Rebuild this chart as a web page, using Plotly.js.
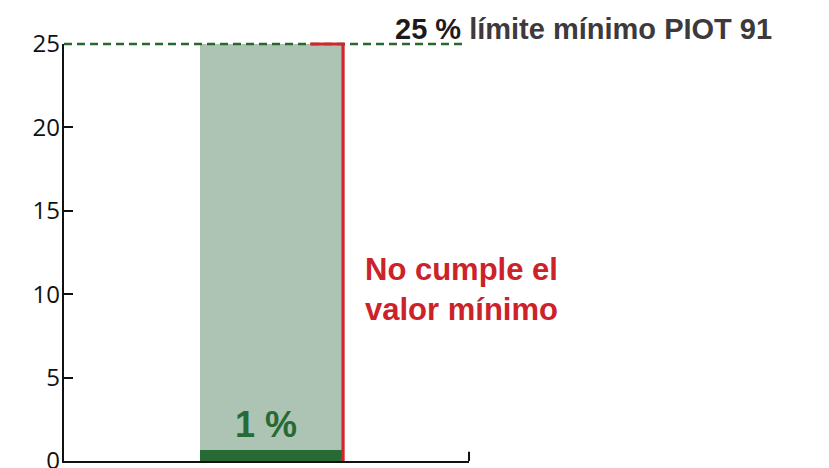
<!DOCTYPE html>
<html>
<head>
<meta charset="utf-8">
<script src="https://cdn.plot.ly/plotly-3.0.1.min.js"></script>
<style>html,body{margin:0;padding:0;background:#fff}#chart{width:829px;height:468px}</style>
</head>
<body>
<div id="chart"></div>
<script>
// Data
const categories = ['Espacios libres'];
const positions = [0];                // position of each category on the x axis
const actualValues = [0.65];          // actual share (labelled "1 %")
const minimumValues = [25];           // PIOT 91 minimum
const actualLabel = '1 %';
const limitLabelStrong = '25 %';
const limitLabelRest = ' límite mínimo PIOT 91';
const failLabel = 'No cumple el<br>valor mínimo';
const yTickVals = [0, 5, 10, 15, 20, 25];
const yTickText = ['0', '5', '10', '15', '20', '25'];

const barWidth = 1;
const yMax = 25;
const limit = minimumValues[0];
const barRight = positions[0] + barWidth / 2;

const traces = [
  {
    type: 'bar', x: positions, y: minimumValues, width: barWidth, name: categories[0],
    marker: {color: '#adc4b4', line: {width: 0}}, hoverinfo: 'skip'
  },
  {
    type: 'bar', x: positions, y: actualValues, width: barWidth, name: categories[0],
    marker: {color: '#276a35', line: {width: 0}}, hoverinfo: 'skip'
  },
  {
    // red line at right edge of the bar
    type: 'scatter', mode: 'lines',
    x: [barRight, barRight],
    y: [0, limit],
    line: {color: '#d2262c', width: 3.2}, hoverinfo: 'skip'
  }
];

const layout = {
  width: 829, height: 468,
  margin: {l: 64, r: 360, t: 44, b: 7, pad: 0},
  paper_bgcolor: '#fff', plot_bgcolor: '#fff',
  showlegend: false,
  barmode: 'overlay',
  bargap: 0,
  xaxis: {
    type: 'linear', range: [-1.45, 1.38],
    showgrid: false, zeroline: false,
    showline: true, linecolor: '#111', linewidth: 2,
    showticklabels: false, ticks: '', fixedrange: true
  },
  yaxis: {
    range: [0, yMax], showgrid: false, zeroline: false,
    showline: true, linecolor: '#111', linewidth: 2.2,
    ticks: 'inside', ticklen: 9, tickwidth: 2, tickcolor: '#111',
    tickvals: yTickVals, ticktext: yTickText,
    tickfont: {family: 'Open Sans, DejaVu Sans, sans-serif', size: 24, color: '#111'},
    ticklabelstandoff: -3,
    ticklabeloverflow: 'allow'
  },
  shapes: [
    // dashed minimum line
    {type: 'line', xref: 'paper', yref: 'paper', x0: 0, x1: 0.983, y0: limit / yMax, y1: limit / yMax,
     line: {color: '#28682f', width: 2.3, dash: '8px,5px'}, layer: 'above'},
    // top of red bracket
    {type: 'line', xref: 'x', yref: 'paper', x0: barRight - 0.23, x1: barRight + 0.011,
     y0: limit / yMax, y1: limit / yMax,
     line: {color: '#d2262c', width: 3.2}, layer: 'above'},
    // right-end tick on x axis
    {type: 'line', xref: 'paper', yref: 'paper', x0: 1, x1: 1, y0: 0, y1: 0.022,
     line: {color: '#111', width: 2}}
  ],
  annotations: [
    {xref: 'paper', yref: 'paper', x: 0.813, y: 1.035, xanchor: 'left', yanchor: 'middle',
     text: '<span style="color:#1e1a1c">' + limitLabelStrong + '</span>' + limitLabelRest,
     showarrow: false,
     font: {family: 'Liberation Sans, Arial, sans-serif', size: 29, color: '#3d393c', weight: 'bold'}},
    {xref: 'paper', yref: 'y', x: 0.738, y: 10.3, xanchor: 'left', yanchor: 'middle', align: 'left',
     text: failLabel, showarrow: false,
     font: {family: 'Liberation Sans, Arial, sans-serif', size: 31, color: '#cc2229', weight: 'bold'}},
    {xref: 'x', yref: 'y', x: positions[0], y: 2.2, xanchor: 'center', yanchor: 'middle', xshift: -6,
     text: actualLabel, showarrow: false,
     font: {family: 'Liberation Sans, Arial, sans-serif', size: 36, color: '#276a35', weight: 'bold'}}
  ]
};

Plotly.newPlot('chart', traces, layout, {displayModeBar: false, staticPlot: true});
</script>
</body>
</html>
